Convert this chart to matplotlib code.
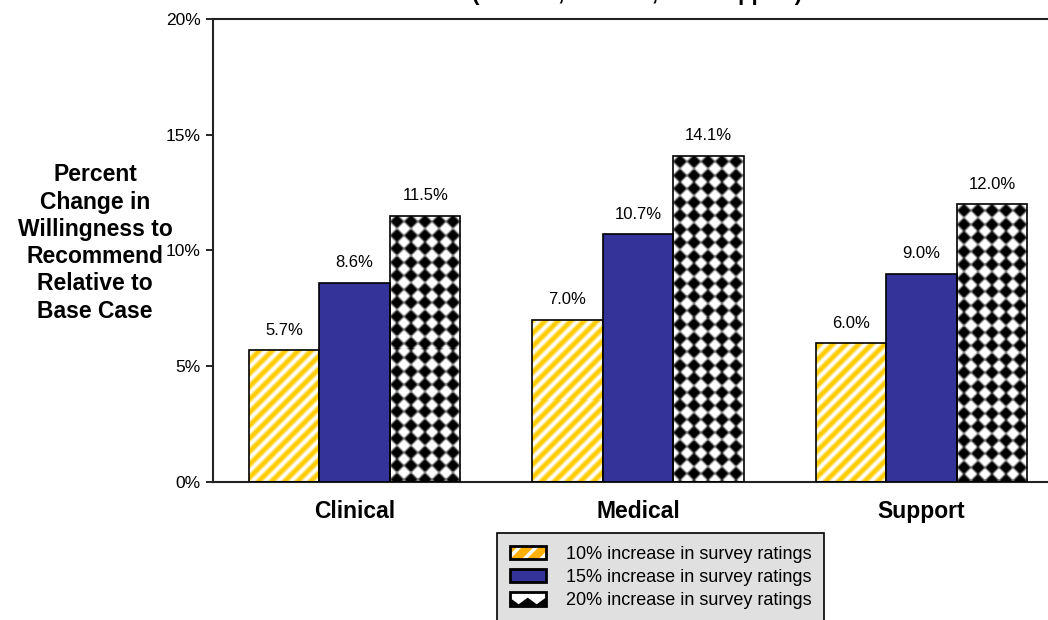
import matplotlib
matplotlib.use("Agg")
import matplotlib.pyplot as plt
import numpy as np
from matplotlib.patches import Patch, Rectangle, Polygon
from matplotlib.legend_handler import HandlerBase
from matplotlib.ticker import FuncFormatter

plt.rcParams['font.family'] = ['Liberation Sans', 'DejaVu Sans']
plt.rcParams['hatch.linewidth'] = 2.5

groups = ['Clinical', 'Medical', 'Support']
series = ['10% increase in survey ratings',
          '15% increase in survey ratings',
          '20% increase in survey ratings']
pct_10 = [5.7, 7.0, 6.0]
pct_15 = [8.6, 10.7, 9.0]
pct_20 = [11.5, 14.1, 12.0]
yticks = [0, 5, 10, 15, 20]

YELLOW = '#ffcc00'
BLUE = '#333399'


def smooth(img):
    # light 3x3 box blur so the pattern edges look soft
    p = np.pad(img, 1, mode='edge')
    out = np.zeros_like(img)
    for dy in range(3):
        for dx in range(3):
            out += p[dy:dy + img.shape[0], dx:dx + img.shape[1]]
    return out / 9.0


def pattern_fill(ax, bar, kind):
    x0, y0 = bar.get_x(), bar.get_y()
    w, h = bar.get_width(), bar.get_height()
    p0 = ax.transData.transform((x0, y0))
    p1 = ax.transData.transform((x0 + w, y0 + h))
    nw = max(int(round(p1[0] - p0[0])), 1)
    nh = max(int(round(p1[1] - p0[1])), 1)
    X, Y = np.meshgrid(np.arange(nw) + 0.5, np.arange(nh) + 0.5)
    if kind == 'stripes':
        white = (((X - Y) % 13.0) < 5.5).astype(float)
        white = smooth(white)
        rgb_a = np.array(matplotlib.colors.to_rgb(YELLOW))
        img = rgb_a[None, None, :] * (1 - white[..., None]) + white[..., None]
    else:
        # rotated checkerboard: black and white diamonds
        Yt = (nh - Y) * 14.0 / 13.5
        u = np.floor((X + Yt + 7.0) / 14.0)
        v = np.floor((X - Yt + 7.0) / 14.0)
        black = ((u + v) % 2).astype(float)
        black = smooth(black)
        img = np.repeat((1 - black)[..., None], 3, axis=2)
    im = ax.imshow(img, extent=(x0, x0 + w, y0, y0 + h), origin='lower',
                   aspect='auto', interpolation='nearest', zorder=2)
    im.set_clip_path(bar)


class ZigzagHandler(HandlerBase):
    def create_artists(self, legend, orig_handle, xdescent, ydescent,
                       width, height, fontsize, trans):
        x0, y0 = -xdescent, -ydescent
        bg = Rectangle((x0, y0), width, height, facecolor='white',
                       edgecolor='none', transform=trans)
        prof = [(0, 0), (0, 0.6), (0.25, 0.1), (0.5, 0.6), (0.75, 0.1),
                (1, 0.6), (1, 0)]
        pts = [(x0 + a * width, y0 + b * height) for a, b in prof]
        zig = Polygon(pts, closed=True, facecolor='black', edgecolor='none',
                      transform=trans)
        border = Rectangle((x0, y0), width, height, facecolor='none',
                           edgecolor='black', lw=2, transform=trans)
        return [bg, zig, border]


fig = plt.figure(figsize=(10.48, 6.2), dpi=100)
ax = fig.add_axes([213 / 1048, (620 - 482) / 620, 850 / 1048, (482 - 19) / 620])

x = np.arange(len(groups))
bw = 0.249
ax.set_xlim(-0.5, 2.5)
ax.set_ylim(0, 20)

bars_10 = ax.bar(x - bw, pct_10, bw, facecolor='none', edgecolor='black',
                 linewidth=1.2, zorder=3)
bars_15 = ax.bar(x, pct_15, bw, facecolor=BLUE, edgecolor='black',
                 linewidth=1.2, zorder=3)
bars_20 = ax.bar(x + bw, pct_20, bw, facecolor='none', edgecolor='black',
                 linewidth=1.2, zorder=3)

for b in bars_10:
    pattern_fill(ax, b, 'stripes')
for b in bars_20:
    pattern_fill(ax, b, 'diamonds')

for bars, vals in [(bars_10, pct_10), (bars_15, pct_15), (bars_20, pct_20)]:
    for b, v in zip(bars, vals):
        ax.annotate(f'{v:.1f}%', (b.get_x() + b.get_width() / 2, v),
                    xytext=(0, 9), textcoords='offset points',
                    ha='center', va='bottom', fontsize=12)

ax.set_yticks(yticks)
ax.yaxis.set_major_formatter(FuncFormatter(lambda v, p: f'{v:.0f}%'))
ax.tick_params(axis='y', direction='out', length=5, width=1.2,
               labelsize=12.5, pad=4)
ax.set_xticks(x)
ax.set_xticklabels(groups, fontsize=16.5, fontweight='bold')
ax.tick_params(axis='x', length=0, pad=13)

for side in ['left', 'bottom', 'top', 'right']:
    ax.spines[side].set_linewidth(1.5)
    ax.spines[side].set_color('#222222')

# subtitle sits mostly above the top edge of the figure
fig.text(637 / 1048, 1.0, '(Clinical, Medical, and Support)',
         ha='center', va='baseline', fontsize=16, fontweight='bold')

fig.text(95 / 1048, 1 - 243 / 620,
         'Percent\nChange in\nWillingness to\nRecommend\nRelative to\nBase Case',
         ha='center', va='center', fontsize=16.5, fontweight='bold',
         linespacing=1.24)

zig_key = Patch()
handles = [
    (Patch(facecolor='#ffb000', edgecolor='white', hatch='//', lw=0),
     Patch(facecolor='none', edgecolor='black', lw=2)),
    Patch(facecolor=BLUE, edgecolor='black', lw=2),
    zig_key,
]
leg = fig.legend(handles, series, loc='upper left',
                 bbox_to_anchor=(497 / 1048, 1 - 533 / 620),
                 handler_map={zig_key: ZigzagHandler()},
                 frameon=True, fancybox=False, edgecolor='black',
                 facecolor='#e0e0e0', framealpha=1, fontsize=13,
                 handlelength=2.0, handleheight=0.75, handletextpad=1.1,
                 labelspacing=0.35, borderpad=0.7, borderaxespad=0)
leg.get_frame().set_linewidth(1.2)

fig.savefig('out.png', dpi=100)
